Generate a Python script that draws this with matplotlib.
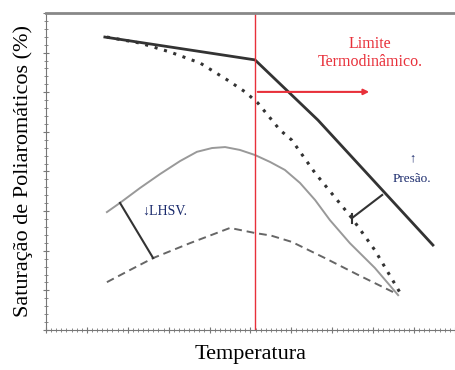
import matplotlib.pyplot as plt
from matplotlib.ticker import MultipleLocator

# --- Curvas (temperatura vs saturação, escala relativa 0-100) ---
t_alta_p = [14.4, 51.1, 66.5, 94.6]
s_alta_p = [92.4, 85.2, 66.2, 26.8]

t_pontilhada = [14.9, 23.0, 30.3, 37.7, 44.3, 48.7, 51.8, 57.2, 60.1, 65.8, 74.8, 80.4, 86.6]
s_pontilhada = [92.4, 90.5, 87.7, 84.2, 78.9, 75.1, 71.6, 63.1, 59.9, 49.5, 35.3, 25.2, 11.7]

t_cinza = [14.9, 18.1, 23.0, 27.9, 32.8, 36.9, 40.6, 43.8, 47.4, 51.1, 54.8, 58.4,
           62.1, 65.8, 69.4, 74.3, 80.4, 86.1]
s_cinza = [37.2, 40.1, 44.8, 49.2, 53.3, 56.2, 57.4, 57.7, 56.8, 55.2, 53.0, 50.5,
           46.4, 41.0, 34.7, 27.4, 19.6, 11.0]

t_tracejada = [14.9, 20.5, 26.2, 35.2, 45.0, 51.1, 55.0, 60.1, 68.2, 76.3, 85.3]
s_tracejada = [15.1, 18.9, 22.7, 27.4, 32.2, 30.6, 29.8, 27.8, 22.7, 17.4, 11.7]

t_limite = 51.1        # limite termodinâmico
seta_limite = [51.1, 79.7, 75.1]   # x inicial, x final, y

lhsv_t = [18.1, 26.2]
lhsv_s = [40.1, 22.7]
pressao_t = [74.8, 82.2]
pressao_s = [35.3, 42.6]

plt.rcParams['font.family'] = ['Liberation Serif', 'DejaVu Serif']

fig = plt.figure(figsize=(4.55, 3.70), dpi=100)
ax = fig.add_axes([0.101, 0.108, 0.899, 0.857])

ax.plot(t_alta_p, s_alta_p, color='#333333', lw=2)
ax.plot(t_pontilhada, s_pontilhada, color='#333333', lw=2.2, linestyle=(0, (1, 2.2)))
ax.plot(t_cinza, s_cinza, color='#999999', lw=1.4)
ax.plot(t_tracejada, s_tracejada, color='#666666', lw=1.4, linestyle=(0, (4, 2.5)))

# limite termodinâmico
ax.axvline(t_limite, color='#e8303a', lw=1)
ax.annotate('', xy=(seta_limite[1], seta_limite[2]), xytext=(seta_limite[0], seta_limite[2]),
            arrowprops=dict(arrowstyle='-|>', color='#e8303a', lw=1.5, mutation_scale=8))
ax.text(79.2, 90.2, 'Limite', color='#e8303a', fontsize=11.5, ha='center', va='center')
ax.text(79.2, 84.5, 'Termodinâmico.', color='#e8303a', fontsize=11.5, ha='center', va='center')

# efeitos de LHSV e pressão
ax.plot(lhsv_t, lhsv_s, color='#333333', lw=1.5)
ax.text(23.5, 37.5, '↓LHSV.', color='#1a2a6c', fontsize=10, ha='left', va='center')
ax.plot(pressao_t, pressao_s, color='#333333', lw=1.5)
ax.plot([pressao_t[0], pressao_t[0]], [pressao_s[0] + 1.2, pressao_s[0] - 1.5], color='#333333', lw=1.5)
ax.text(89.5, 54.2, '↑', color='#1a2a6c', fontsize=9, ha='center', va='center')
ax.text(89.5, 47.5, 'Presão.', color='#1a2a6c', fontsize=9.5, ha='center', va='center')

ax.set_xlim(0, 100)
ax.set_ylim(0, 100)
ax.xaxis.set_major_locator(MultipleLocator(10))
ax.xaxis.set_minor_locator(MultipleLocator(1.25))
ax.yaxis.set_major_locator(MultipleLocator(12.5))
ax.yaxis.set_minor_locator(MultipleLocator(2.5))
ax.tick_params(which='both', direction='inout', labelbottom=False, labelleft=False, colors='#777777')
ax.tick_params(which='major', length=5)
ax.tick_params(which='minor', length=3)
ax.spines['right'].set_visible(False)
ax.spines['top'].set_color('#888888')
ax.spines['top'].set_linewidth(2)
ax.spines['left'].set_color('#777777')
ax.spines['bottom'].set_color('#777777')

ax.set_xlabel('Temperatura', fontsize=16, labelpad=8)
ax.set_ylabel('Saturação de Poliaromáticos (%)', fontsize=16, labelpad=7)

fig.savefig('out.png', dpi=100)
